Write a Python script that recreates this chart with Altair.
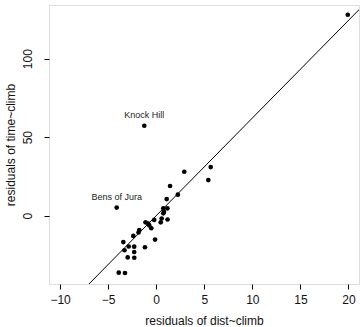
import altair as alt
import pandas as pd

# residuals
res_dist = [-4.11, -3.90, -3.25, -3.42, -2.86, -2.29, -3.30, -2.29, -2.97, -2.28,
            -1.17, -2.38, -1.76, -1.84, -1.11, -0.83, -0.72, -0.51, -0.12, -0.21,
            0.47, 0.57, 0.74, 0.74, 1.16, 1.18, 1.09, 1.44, 2.25, 2.92,
            5.67, 5.42, -1.24, 19.93, 0.81]
res_time = [5.2, -36.3, -36.5, -16.8, -19.6, -19.7, -22.0, -23.1, -26.6, -26.8,
            -20.1, -12.9, -9.1, -10.7, -4.2, -5.1, -6.2, -8.0, -15.2, -2.7,
            -4.2, -1.8, 1.5, 4.7, 4.7, -2.4, 10.6, 18.9, 13.4, 28.0,
            31.0, 22.7, 57.3, 128.0, 2.5]

label_names = ["Knock Hill", "Bens of Jura"]
label_x = [-1.24, -4.11]
label_y = [57.3, 5.2]

# fitted line (slope ~6.218 through the origin), endpoints beyond the plot edges
line_x = [-12.0, 22.0]
line_y = [-74.6, 136.8]

x_ticks = [-10, -5, 0, 5, 10, 15, 20]
y_ticks = [0, 50, 100]

x_domain = [-11.155, 21.10]
y_domain = [-43.5, 134.2]

FONT = "Liberation Sans"

pts = pd.DataFrame({"x": res_dist, "y": res_time})
lbl = pd.DataFrame({"x": label_x, "y": label_y, "name": label_names})
ln = pd.DataFrame({"x": line_x, "y": line_y})

xs = alt.Scale(domain=x_domain, nice=False, zero=False)
ys = alt.Scale(domain=y_domain, nice=False, zero=False)

x_axis = alt.Axis(values=x_ticks, grid=False, domain=False, tickColor="black",
                  tickSize=5, labelPadding=5, labelFont=FONT, labelFontSize=12,
                  labelColor="#111111", title="residuals of dist~climb",
                  titleFont=FONT, titleFontSize=12, titleFontWeight="normal",
                  titleColor="#111111", titleX=155, titleY=40,
                  titleBaseline="alphabetic", titleAnchor="middle")
y_axis = alt.Axis(values=y_ticks, grid=False, domain=False, tickColor="black",
                  tickSize=5, labelPadding=13, labelFont=FONT, labelFontSize=12,
                  labelColor="#111111", labelAngle=270, labelAlign="center",
                  labelBaseline="alphabetic", title="residuals of time~climb",
                  titleFont=FONT, titleFontSize=12, titleFontWeight="normal",
                  titleColor="#111111", titleAngle=270, titleX=-34.5, titleY=139.5,
                  titleAlign="center", titleBaseline="alphabetic")

points = alt.Chart(pts).mark_circle(color="black", opacity=1, size=22).encode(
    x=alt.X("x:Q", scale=xs, axis=x_axis),
    y=alt.Y("y:Q", scale=ys, axis=y_axis),
)

line = alt.Chart(ln).mark_line(color="black", strokeWidth=1, clip=True).encode(
    x=alt.X("x:Q", scale=xs),
    y=alt.Y("y:Q", scale=ys),
)

labels = alt.Chart(lbl).mark_text(font=FONT, fontSize=9, color="#222222",
                                  baseline="alphabetic", align="center", dy=-8).encode(
    x=alt.X("x:Q", scale=xs),
    y=alt.Y("y:Q", scale=ys),
    text="name:N",
)

chart = alt.layer(line, points, labels).properties(
    width=310, height=279,
    autosize=alt.AutoSizeParams(type="none"),
    padding={"left": 49, "top": 5, "right": 1, "bottom": 43},
).configure_view(stroke="black", strokeWidth=1).configure(background="white")

chart.save("out.html", embed_options={"renderer": "svg", "actions": False})
